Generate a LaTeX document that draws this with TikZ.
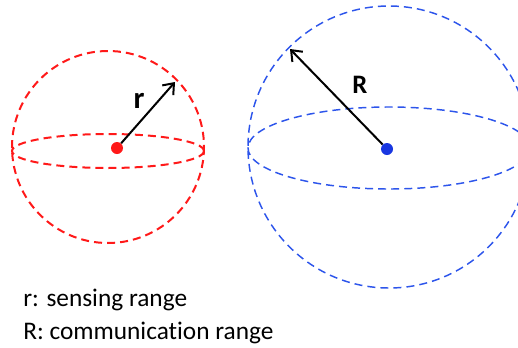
\documentclass[tikz,border=0pt]{standalone}
\usepackage{fontspec}
\setmainfont{Carlito}[Ligatures=NoCommon]
\usetikzlibrary{arrows.meta}

\definecolor{sensred}{RGB}{255,25,25}
\definecolor{commblue}{RGB}{45,85,235}
\definecolor{dotblue}{RGB}{25,55,225}

\begin{document}
\begin{tikzpicture}[
    x=0.75pt, y=-0.75pt,
    every node/.style={font=\fontsize{19}{24}\selectfont},
    rangeline/.style={dash pattern=on 6pt off 3.8pt},
    dot/.style={circle, fill, inner sep=0pt, minimum size=9pt},
    arr/.style={-{Straight Barb[length=7pt,width=11pt]}, line width=1.5pt},
    legend/.style={anchor=base west, inner sep=0pt}
  ]
    \useasboundingbox (0,0) rectangle (518,347);
    \clip (0,0) rectangle (518,347);

    % sensing sphere
    \draw[rangeline, sensred, line width=1.5pt] (108,147) circle[radius=96];
    \draw[rangeline, sensred, line width=1.5pt] (108,151) ellipse[x radius=96, y radius=17];
    \node[dot, sensred] (sensor) at (117,148) {};
    \coordinate (rtip) at (175,82);
    \draw[arr] (sensor) -- (rtip);
    \node[font=\fontsize{23}{24}\bfseries\selectfont] (rlabel) at (139,101) {r};

    % communication sphere
    \draw[rangeline, commblue, line width=1.1pt] (389,147) circle[radius=141];
    \draw[rangeline, commblue, line width=1.1pt] (389,148) ellipse[x radius=141, y radius=41];
    \node[dot, dotblue] (commnode) at (387,149) {};
    \coordinate (Rtip) at (290,49);
    \draw[arr] (commnode) -- (Rtip);
    \node[font=\fontsize{20}{24}\bfseries\selectfont] (Rlabel) at (360,85) {R};

    \node[legend] (lsens) at (23,306.5) {r: sensing range};
    \node[legend] (lcomm) at (23,339) {R: communication range};
  \end{tikzpicture}
\end{document}
